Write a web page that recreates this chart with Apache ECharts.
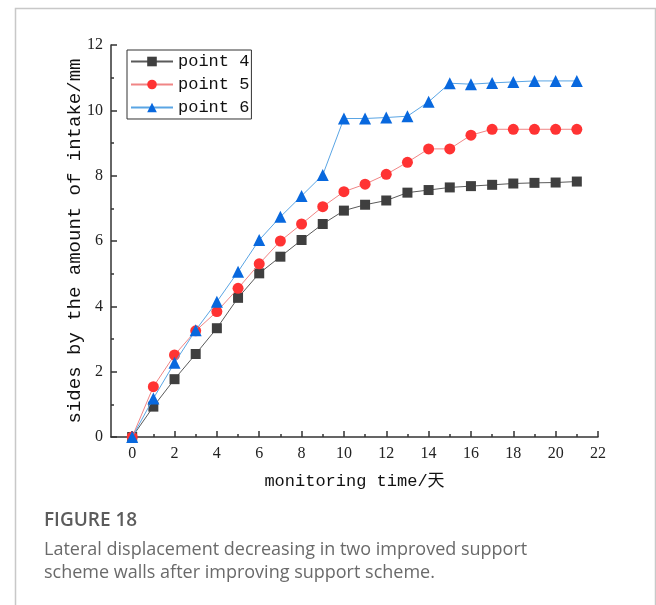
<!DOCTYPE html>
<html>
<head>
<meta charset="utf-8">
<script src="https://cdn.jsdelivr.net/npm/echarts@6/dist/echarts.min.js"></script>
<style>
html,body{margin:0;padding:0;background:#fff;}
#c{width:656px;height:605px;}
</style>
</head>
<body>
<div id="c"></div>
<script>
var days = [0,1,2,3,4,5,6,7,8,9,10,11,12,13,14,15,16,17,18,19,20,21];
var point4 = [0,0.93,1.77,2.54,3.33,4.26,5.01,5.52,6.03,6.52,6.93,7.11,7.24,7.48,7.56,7.64,7.68,7.72,7.76,7.78,7.79,7.82];
var point5 = [0,1.54,2.51,3.25,3.84,4.55,5.30,6.00,6.52,7.05,7.51,7.74,8.04,8.41,8.82,8.82,9.24,9.42,9.42,9.42,9.42,9.42];
var point6 = [0,1.18,2.27,3.27,4.14,5.06,6.03,6.74,7.38,8.02,9.75,9.75,9.78,9.82,10.26,10.83,10.80,10.84,10.87,10.90,10.90,10.90];
var xMajorTicks = [0,2,4,6,8,10,12,14,16,18,20,22];
var xMinorTicks = [1,3,5,7,9,11,13,15,17,19,21];
var seriesNames = ['point 4','point 5','point 6'];
var xTitle = 'monitoring time/天';
var yTitle = 'sides by the amount of intake/mm';
var figLabel = 'FIGURE 18';
var captionLines = ['Lateral displacement decreasing in two improved support','scheme walls after improving support scheme.'];

function pairs(arr){ return days.map(function(d,i){ return [d, arr[i]]; }); }

var chart = echarts.init(document.getElementById('c'), null, {renderer:'canvas'});
var serifFont = '"Liberation Serif","DejaVu Serif",serif';
var monoFont = '"Liberation Mono","DejaVu Sans Mono","Noto Sans CJK SC",monospace';
var sansFont = '"Open Sans","Noto Sans",sans-serif';
var axisColor = '#333';

var option = {
  animation:false,
  backgroundColor:'#fff',
  grid:{left:111,right:58,top:45,bottom:168,containLabel:false},
  legend:{
    show:true, orient:'vertical', left:127, top:50,
    itemWidth:42, itemHeight:12, itemGap:6,
    padding:[3,2,3,3],
    borderColor:'#333', borderWidth:1,
    textStyle:{fontFamily:monoFont,fontSize:17,color:'#111'},
    data:seriesNames
  },
  xAxis:[{
    type:'value', min:-1, max:22, interval:1,
    name:xTitle, nameLocation:'middle', nameGap:36,
    nameTextStyle:{fontFamily:monoFont,fontSize:17,color:'#111'},
    axisLine:{show:true,onZero:false,lineStyle:{color:axisColor,width:1.5}},
    axisTick:{show:true,inside:true,length:6,customValues:xMajorTicks,lineStyle:{color:axisColor,width:1.5}},
    axisLabel:{show:true,customValues:xMajorTicks,margin:9,fontFamily:serifFont,fontSize:16,color:'#222'},
    splitLine:{show:false}
  },{
    type:'value', min:-1, max:22, interval:1, position:'bottom',
    axisLine:{show:false,onZero:false},
    axisTick:{show:true,inside:true,length:3,customValues:xMinorTicks,lineStyle:{color:axisColor,width:1.5}},
    axisLabel:{show:false},
    splitLine:{show:false}
  }],
  yAxis:{
    type:'value', min:0, max:12, interval:2,
    name:yTitle, nameLocation:'middle', nameGap:27, nameRotate:90, nameMoveOverlap:false,
    nameTextStyle:{fontFamily:monoFont,fontSize:19,color:'#111'},
    axisLine:{show:true,onZero:false,lineStyle:{color:axisColor,width:1.5}},
    axisTick:{show:true,inside:true,length:6,lineStyle:{color:axisColor,width:1.5}},
    minorTick:{show:true,splitNumber:2,length:3,lineStyle:{color:axisColor,width:1.5}},
    axisLabel:{margin:8,fontFamily:serifFont,fontSize:16,color:'#222'},
    splitLine:{show:false}
  },
  series:[
    {name:seriesNames[0],type:'line',data:pairs(point4),symbol:'rect',symbolSize:10,
     itemStyle:{color:'#3f3f3f'},lineStyle:{color:'#5a5a5a',width:1},z:3},
    {name:seriesNames[1],type:'line',data:pairs(point5),symbol:'circle',symbolSize:11,
     itemStyle:{color:'#ff3333'},lineStyle:{color:'#f08585',width:1},z:4},
    {name:seriesNames[2],type:'line',data:pairs(point6),symbol:'triangle',symbolSize:12,
     itemStyle:{color:'#0868de'},lineStyle:{color:'#5aa5e4',width:1},z:5}
  ],
  graphic:[
    {type:'rect',left:13,top:6,shape:{width:640,height:620},style:{fill:'none',stroke:'#c8c8c8',lineWidth:1.5},silent:true,z:-1},
    {type:'text',left:44,top:511,style:{text:figLabel,fontFamily:sansFont,fontWeight:600,fontSize:19,fill:'#5c5c5c'}},
    {type:'text',left:44,top:541,style:{text:captionLines[0],fontFamily:sansFont,fontSize:18,fill:'#6a6a6a'}},
    {type:'text',left:44,top:564,style:{text:captionLines[1],fontFamily:sansFont,fontSize:18,fill:'#6a6a6a'}}
  ]
};
chart.setOption(option);
</script>
</body>
</html>
